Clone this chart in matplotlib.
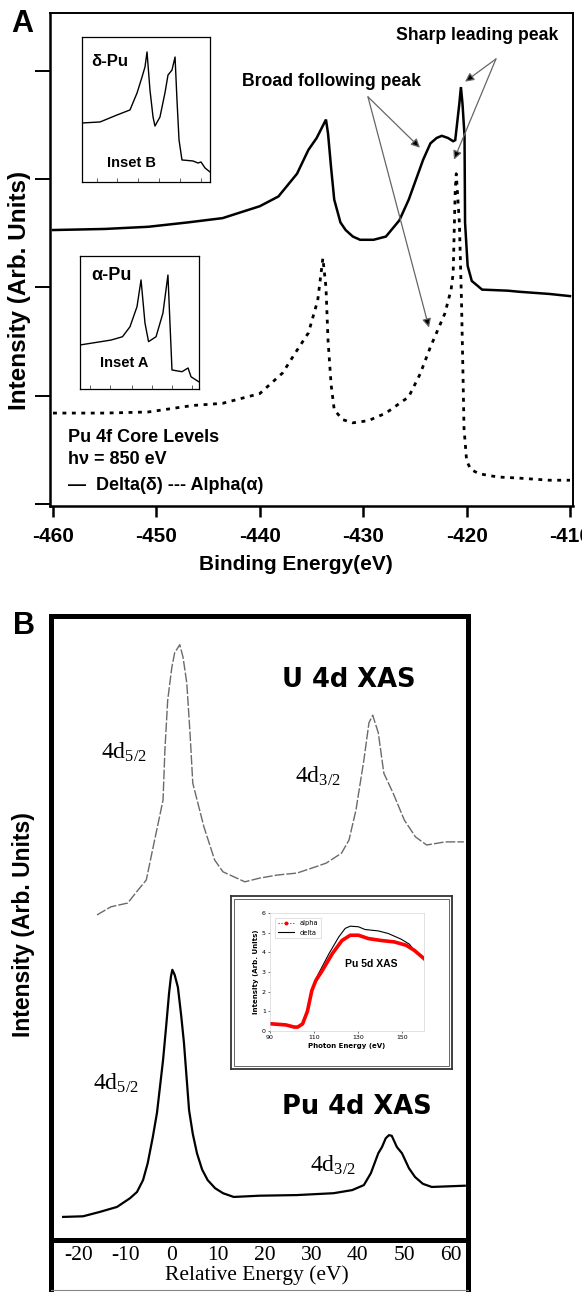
import matplotlib
matplotlib.use('Agg')
import matplotlib.pyplot as plt
from matplotlib.lines import Line2D
from matplotlib.patches import Rectangle

plt.rcParams['mathtext.fontset'] = 'custom'
plt.rcParams['mathtext.rm'] = 'Liberation Serif'
plt.rcParams['mathtext.it'] = 'Liberation Serif:italic'

W, H = 582, 1292

# ---------------- Panel A : Pu 4f core levels ----------------
delta_x = [-460.0, -455.0, -450.8, -447.0, -443.6, -440.0, -438.2, -436.4, -435.3, -434.5,
           -433.6, -433.4, -433.1, -432.8, -432.2, -431.7, -431.0, -430.3, -429.0, -427.8,
           -426.5, -425.6, -424.2, -423.5, -422.9, -422.4, -421.8, -421.3, -421.1, -420.7,
           -420.55, -420.4, -420.2, -420.15, -419.9, -419.5, -418.5, -416.0, -414.9, -412.0, -410.0]
delta_y = [2.53, 2.54, 2.56, 2.60, 2.64, 2.75, 2.84, 3.05, 3.27, 3.38,
           3.55, 3.42, 3.10, 2.81, 2.60, 2.53, 2.47, 2.44, 2.44, 2.47,
           2.62, 2.81, 3.18, 3.33, 3.38, 3.40, 3.38, 3.35, 3.36, 3.70,
           3.85, 3.70, 3.40, 2.60, 2.20, 2.06, 1.98, 1.97, 1.96, 1.94, 1.92]

alpha_x = [-460.0, -455.0, -450.8, -446.5, -443.6, -440.0, -437.8, -436.4, -435.3, -434.4,
           -433.9, -433.6, -433.4, -433.1, -432.8, -432.0, -431.0, -429.5, -427.8, -425.6,
           -424.5, -423.5, -422.1, -421.5, -421.3, -421.1, -421.0, -420.7, -420.5, -420.35,
           -420.25, -420.0, -419.6, -418.8, -417.0, -415.0, -412.0, -410.0]
alpha_y = [0.84, 0.84, 0.85, 0.91, 0.93, 1.02, 1.21, 1.42, 1.58, 1.88,
           2.27, 2.00, 1.51, 1.10, 0.87, 0.78, 0.75, 0.77, 0.84, 0.99,
           1.20, 1.45, 1.76, 1.98, 2.13, 2.90, 3.05, 2.60, 1.90, 1.20,
           0.70, 0.40, 0.32, 0.28, 0.25, 0.24, 0.22, 0.22]

xticks_A = [-460, -450, -440, -430, -420, -410]
yticks_A = [0, 1, 2, 3, 4]

# inset B (delta-Pu) and inset A (alpha-Pu), arbitrary units 0-100
insetB_x = [0, 14.1, 27.3, 37.5, 43.0, 46.9, 49.2, 50.8, 53.1, 55.5, 57.0, 60.9, 64.8, 67.2,
            70.3, 72.7, 74.2, 75.8, 78.1, 86.7, 90.6, 93.0, 96.1, 100]
insetB_y = [40.7, 41.4, 46.2, 49.7, 61.4, 72.4, 79.3, 89.7, 63.4, 44.8, 38.6, 44.8, 61.4, 73.8,
            77.2, 86.2, 56.6, 29.0, 15.2, 14.5, 13.1, 13.8, 9.7, 6.9]
insetB_ticks = [11.7, 27.3, 43.8, 60.2, 76.6, 93.0]

insetA_x = [0, 26.1, 35.7, 42.0, 47.9, 51.3, 54.6, 57.6, 63.9, 69.7, 73.9, 75.6, 77.3, 85.7,
            90.8, 93.3, 99.7]
insetA_y = [33.1, 36.8, 39.3, 46.8, 61.9, 82.0, 49.6, 35.6, 39.3, 57.1, 85.7, 49.6, 14.3, 13.0,
            15.8, 9.2, 5.5]
insetA_ticks = [8.4, 25.2, 43.7, 60.5, 77.3, 94.1]

# ---------------- Panel B : 4d XAS ----------------
u4d_x = [-16.1, -13.1, -9.5, -7.8, -5.5, -4.3, -1.9, -1.5, -0.9, 0.0, 0.6, 1.7, 2.4, 3.2, 3.9,
         4.5, 6.9, 9.2, 11.0, 15.7, 18.9, 22.8, 26.9, 30.9, 33.2, 36.5, 38.1, 39.6, 41.3, 42.4,
         43.2, 44.4, 45.6, 47.6, 50.0, 52.4, 54.8, 58.8, 62.8]
u4d_y = [5.21, 5.34, 5.40, 5.56, 5.77, 6.20, 7.05, 7.85, 8.65, 9.18, 9.41, 9.54, 9.34, 8.93, 8.13,
         7.32, 6.62, 6.09, 5.90, 5.74, 5.80, 5.85, 5.88, 5.98, 6.04, 6.20, 6.41, 6.89, 7.69, 8.29,
         8.41, 8.13, 7.48, 7.16, 6.73, 6.46, 6.33, 6.38, 6.38]

pu4d_x = [-23.4, -19.1, -15.5, -11.8, -9.0, -7.5, -6.2, -5.2, -4.1, -3.2, -1.9, -1.2, -0.6,
          -0.2, 0.1, 0.6, 1.3, 2.0, 2.6, 3.7, 4.5, 5.4, 6.5, 7.7, 9.3, 11.0, 13.3, 18.9, 26.9,
          34.8, 38.8, 41.3, 42.8, 44.4, 45.2, 46.0, 46.7, 47.3, 48.4, 49.5, 51.0, 52.3, 54.0,
          55.9, 63.0]
pu4d_y = [0.37, 0.38, 0.45, 0.53, 0.67, 0.77, 0.96, 1.23, 1.65, 2.04, 2.88, 3.45, 3.96,
          4.22, 4.33, 4.25, 4.05, 3.60, 3.16, 2.08, 1.70, 1.39, 1.13, 0.96, 0.83, 0.75, 0.69,
          0.71, 0.72, 0.75, 0.80, 0.88, 1.07, 1.39, 1.49, 1.63, 1.68, 1.67, 1.49, 1.39, 1.15,
          1.01, 0.90, 0.85, 0.87]
xticks_B = [-20, -10, 0, 10, 20, 30, 40, 50, 60]

# Pu 5d XAS inset
alpha5d_x = [90, 97.2, 101, 102.6, 104.8, 107, 109, 110.8, 113.8, 118.3, 122.7, 126.5, 130.2,
             134.7, 140.7, 146.5, 151.9, 155.6, 160]
alpha5d_y = [0.37, 0.31, 0.20, 0.20, 0.36, 1.00, 2.05, 2.56, 3.08, 3.93, 4.60, 4.87, 4.87,
             4.70, 4.60, 4.53, 4.36, 4.10, 3.68]
delta5d_x = [90, 97.2, 101, 102.6, 104.8, 107, 109, 110.8, 116.8, 121.3, 124.2, 126.5, 130.2,
             133.2, 139.2, 143.7, 149.6, 153.4, 155.6, 160]
delta5d_y = [0.37, 0.31, 0.20, 0.20, 0.36, 1.00, 2.05, 2.65, 3.93, 4.79, 5.22, 5.33, 5.30,
             5.16, 5.09, 4.96, 4.67, 4.41, 4.10, 3.68]
xticks_5d = [90, 110, 130, 150]
yticks_5d = [0, 1, 2, 3, 4, 5, 6]

# ---------------------------------------------------------------
fig = plt.figure(figsize=(W / 100, H / 100), dpi=100)
fig.patch.set_facecolor('white')


def axes_px(l, t, r, b, **kw):
    return fig.add_axes([l / W, 1 - b / H, (r - l) / W, (b - t) / H], **kw)


def ftext(px, py, s, **kw):
    return fig.text(px / W, 1 - py / H, s, **kw)


SANS = 'Liberation Sans'
SERIF = 'Liberation Serif'

# ---------- Panel A ----------
axA = axes_px(50, 13, 573, 506)
axA.plot(delta_x, delta_y, color='black', lw=1.8, solid_joinstyle='miter')
axA.plot(alpha_x, alpha_y, color='black', lw=2.0, linestyle=(0, (1.4, 2.0)))
axA.set_xlim(-460.29, -409.71)
axA.set_ylim(-0.018, 4.534)
axA.set_xticks(xticks_A)
axA.set_xticklabels([str(t) for t in xticks_A], fontfamily=SANS, fontweight='bold', fontsize=15)
axA.set_yticks(yticks_A)
axA.set_yticklabels([])
axA.tick_params(axis='x', direction='out', length=8, width=1.8, pad=7)
axA.tick_params(axis='y', direction='out', length=11, width=1.4)
for s in ['left', 'bottom']:
    axA.spines[s].set_linewidth(1.8)
for s in ['top', 'right']:
    axA.spines[s].set_linewidth(1.4)

# arrows
arr = dict(arrowstyle='-|>', edgecolor='#666666', facecolor='black', lw=0.9,
           mutation_scale=13, shrinkA=0, shrinkB=0)
axA.annotate('', xy=(-420.15, 3.90), xytext=(-417.16, 4.11), arrowprops=arr)
axA.annotate('', xy=(-421.22, 3.18), xytext=(-417.16, 4.11), arrowprops=arr)
axA.annotate('', xy=(-424.51, 3.29), xytext=(-429.54, 3.76), arrowprops=arr)
axA.annotate('', xy=(-423.64, 1.63), xytext=(-429.54, 3.76), arrowprops=arr)

ftext(477, 35, 'Sharp leading peak', ha='center', va='center', fontfamily=SANS,
      fontweight='bold', fontsize=12.7)
ftext(331, 81, 'Broad following peak', ha='center', va='center', fontfamily=SANS,
      fontweight='bold', fontsize=12.7)
ftext(68, 438, 'Pu 4f Core Levels', ha='left', va='center', fontfamily=SANS,
      fontweight='bold', fontsize=13)
ftext(68, 460, 'h\u03bd = 850 eV', ha='left', va='center', fontfamily=SANS,
      fontweight='bold', fontsize=13)
ftext(68, 485, '\u2014  Delta(\u03b4) --- Alpha(\u03b1)', ha='left', va='center', fontfamily=SANS,
      fontweight='bold', fontsize=13)
ftext(22, 24, 'A', ha='center', va='center', fontfamily=SANS, fontweight='bold', fontsize=22)
ftext(20, 290, 'Intensity (Arb. Units)', ha='center', va='center', rotation=90,
      fontfamily=SANS, fontweight='bold', fontsize=17.5)
ftext(296, 565, 'Binding Energy(eV)', ha='center', va='center', fontfamily=SANS,
      fontweight='bold', fontsize=15)

# insets in panel A
insB = axes_px(82, 37, 210, 182)
insB.plot(insetB_x, insetB_y, color='black', lw=1.0)
insB.set_xlim(0, 100)
insB.set_ylim(0, 100)
insB.set_xticks(insetB_ticks)
insB.set_xticklabels([])
insB.set_yticks([])
insB.tick_params(axis='x', direction='in', length=3, width=0.6, color='#444444')
for s in insB.spines.values():
    s.set_linewidth(0.9)
ftext(110, 62, '\u03b4-Pu', ha='center', va='center', fontfamily=SANS, fontweight='bold',
      fontsize=12)
ftext(131, 163, 'Inset B', ha='center', va='center', fontfamily=SANS, fontweight='bold',
      fontsize=10.5)

insA = axes_px(80, 256, 199, 389)
insA.plot(insetA_x, insetA_y, color='black', lw=1.0)
insA.set_xlim(0, 100)
insA.set_ylim(0, 100)
insA.set_xticks(insetA_ticks)
insA.set_xticklabels([])
insA.set_yticks([])
insA.tick_params(axis='x', direction='in', length=3, width=0.6, color='#444444')
for s in insA.spines.values():
    s.set_linewidth(0.9)
ftext(111, 276, '\u03b1-Pu', ha='center', va='center', fontfamily=SANS, fontweight='bold',
      fontsize=13)
ftext(124, 363, 'Inset A', ha='center', va='center', fontfamily=SANS, fontweight='bold',
      fontsize=10.5)

# ---------- Panel B ----------
axB = axes_px(51, 616, 468, 1240)
axB.plot(u4d_x, u4d_y, color='#6a6a6a', lw=1.0, linestyle=(0, (7, 1.5)))
axB.plot(pu4d_x, pu4d_y, color='black', lw=1.6)
axB.set_xlim(-26.0, 63.7)
axB.set_ylim(0, 10)
axB.set_yticks([])
axB.set_xticks(xticks_B)
axB.set_xticklabels([str(t) for t in xticks_B], fontfamily=SERIF, fontsize=15.5)
axB.tick_params(axis='x', length=0, pad=4)
for s in axB.spines.values():
    s.set_linewidth(3.6)

# lower label box lines
for xp in (51, 468):
    fig.add_artist(Line2D([xp / W, xp / W], [1 - 1240 / H, 0], color='black', lw=3.6))
fig.add_artist(Line2D([51 / W, 468 / W], [1 - 1290 / H, 1 - 1290 / H], color='#888888', lw=0.8))

ftext(24, 626, 'B', ha='center', va='center', fontfamily=SANS, fontweight='bold', fontsize=22)
ftext(24, 925, 'Intensity (Arb. Units)', ha='center', va='center', rotation=90,
      fontfamily=SANS, fontweight='bold', fontsize=16.5)
ftext(257, 1275, 'Relative Energy (eV)', ha='center', va='center', fontfamily=SERIF,
      fontsize=15.5)

ftext(349, 680, 'U 4d XAS', ha='center', va='center', fontfamily='DejaVu Sans',
      fontweight='bold', fontsize=18.5)
ftext(357, 1107, 'Pu 4d XAS', ha='center', va='center', fontfamily='DejaVu Sans',
      fontweight='bold', fontsize=18.5)
for (px, py, sub) in [(101, 759, '5/2'), (295, 783, '3/2'), (93, 1090, '5/2'), (310, 1172, '3/2')]:
    ftext(px, py, '4d$_{\\mathrm{' + sub + '}}$', ha='left', va='baseline', fontfamily=SERIF,
          fontsize=17)

# Pu 5d XAS inset box
box = axes_px(231, 896, 452, 1069)
box.set_xticks([])
box.set_yticks([])
for s in box.spines.values():
    s.set_linewidth(1.3)
    s.set_edgecolor('#333333')
box.add_patch(Rectangle((3 / 221, 3 / 173), 1 - 6 / 221, 1 - 6 / 173, transform=box.transAxes,
                        fill=False, lw=0.7, edgecolor='#666666'))

ins5 = axes_px(270, 913, 424, 1031)
ins5.plot(delta5d_x, delta5d_y, color='black', lw=0.8, label='delta')
ins5.plot(alpha5d_x, alpha5d_y, color='red', lw=2.6, label='alpha')
ins5.set_xlim(90, 160)
ins5.set_ylim(0, 6)
ins5.set_xticks(xticks_5d)
ins5.set_yticks(yticks_5d)
ins5.tick_params(labelsize=4.5, length=1.5, width=0.4, pad=1.5)
for s in ins5.spines.values():
    s.set_linewidth(0.4)
    s.set_edgecolor('#cccccc')
ins5.set_xlabel('Photon Energy (eV)', fontsize=5, fontweight='bold', labelpad=2)
ins5.set_ylabel('Intensity (Arb. Units)', fontsize=5, fontweight='bold', labelpad=2)
ins5.text(0.66, 0.57, 'Pu 5d XAS', transform=ins5.transAxes, ha='center', va='center',
          fontfamily=SANS, fontweight='bold', fontsize=7.5)
handles = [Line2D([], [], color='red', lw=0.8, linestyle=':', marker='o', markersize=1.8),
           Line2D([], [], color='black', lw=0.8)]
leg = ins5.legend(handles, ['alpha', 'delta'], loc='upper left', fontsize=4.8, frameon=True,
                  fancybox=False, edgecolor='#bbbbbb', borderpad=0.4, handlelength=2.5,
                  labelspacing=0.5, bbox_to_anchor=(0.01, 0.99))
leg.get_frame().set_linewidth(0.4)

fig.savefig('out.png', dpi=100, facecolor='white')
